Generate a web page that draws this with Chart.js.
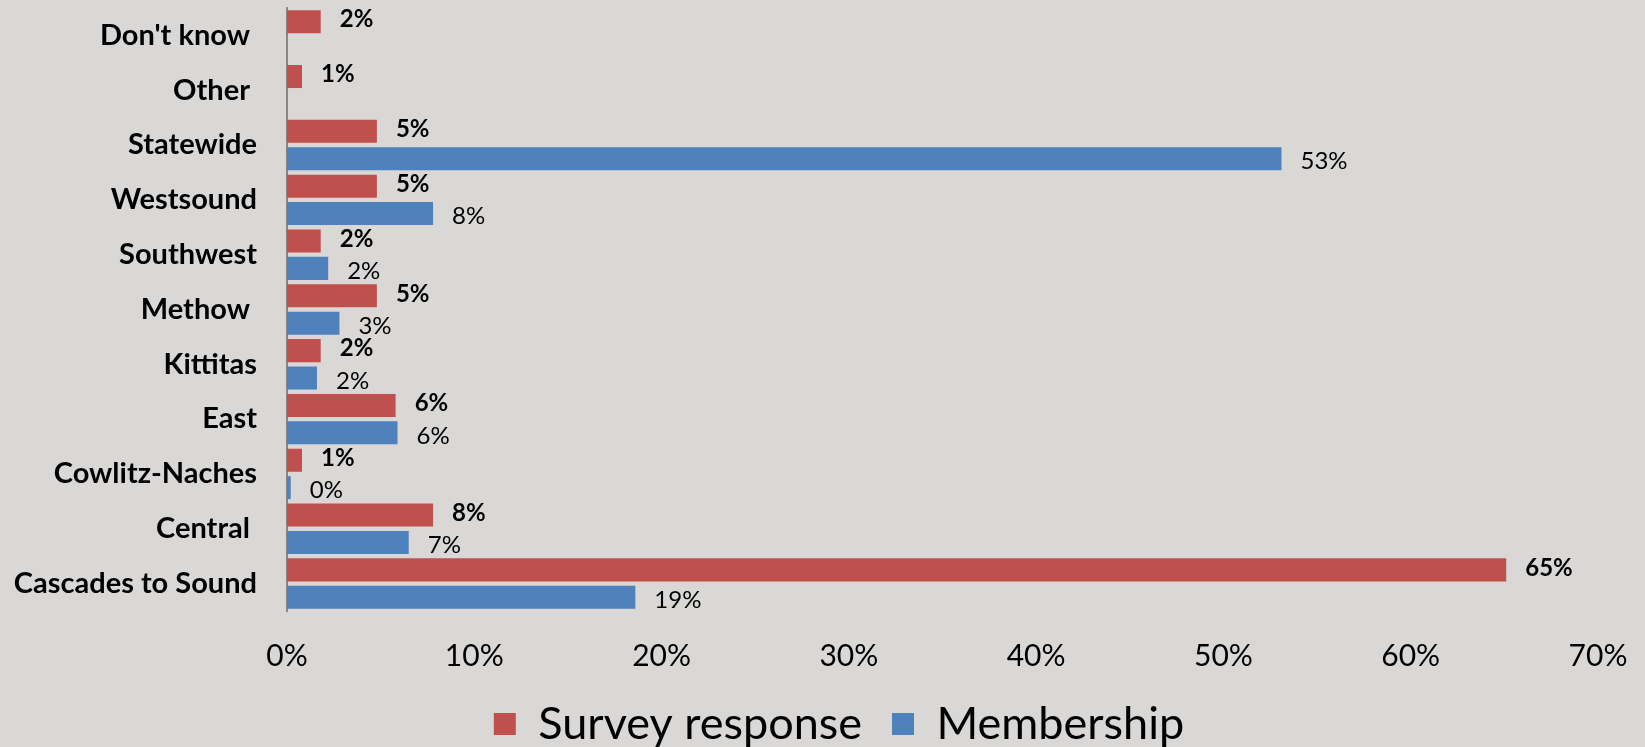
<!DOCTYPE html>
<html>
<head>
<meta charset="utf-8">
<script src="https://cdn.jsdelivr.net/npm/chart.js@4.4.0/dist/chart.umd.min.js"></script>
<style>
  html,body{margin:0;padding:0;background:#d9d8d6;}
  .chart-container{position:relative;width:1645px;height:747px;}
</style>
</head>
<body>
<div class="chart-container"><canvas id="myChart"></canvas></div>
<script>
const regions = ["Don't know ", 'Other ', 'Statewide', 'Westsound', 'Southwest', 'Methow ', 'Kittitas', 'East', 'Cowlitz-Naches', 'Central ', 'Cascades to Sound'];
const surveyResponse = [1.8, 0.8, 4.8, 4.8, 1.8, 4.8, 1.8, 5.8, 0.8, 7.8, 65.1];
const membership = [null, null, 53.1, 7.8, 2.2, 2.8, 1.6, 5.9, 0.2, 6.5, 18.6];
const xTicks = [0, 10, 20, 30, 40, 50, 60, 70];

const FONT = "Lato, 'Liberation Sans', sans-serif";

// bar end labels, bold for the survey series
const valueLabels = {
  id: 'valueLabels',
  afterDatasetsDraw(chart) {
    const ctx = chart.ctx;
    chart.data.datasets.forEach((ds, di) => {
      const meta = chart.getDatasetMeta(di);
      meta.data.forEach((bar, i) => {
        const v = ds.data[i];
        if (v === null) return;
        ctx.save();
        ctx.font = (di === 0 ? 'bold ' : '') + '24px ' + FONT;
        ctx.fillStyle = '#000';
        ctx.textBaseline = 'middle';
        ctx.fillText(Math.round(v) + '%', bar.x + 19, bar.y + (di === 0 ? -2 : 3));
        ctx.restore();
      });
    });
  }
};

const bg = {
  id: 'bg',
  beforeDraw(chart) {
    const ctx = chart.ctx;
    ctx.save();
    ctx.fillStyle = '#d9d8d6';
    ctx.fillRect(0, 0, chart.width, chart.height);
    ctx.restore();
  }
};

// legend in the original sits a bit right of the centre
const legendShift = {
  id: 'legendShift',
  afterLayout(chart) {
    chart.legend.left += 40;
    chart.legend.right += 40;
  }
};

const ctx = document.getElementById('myChart').getContext('2d');
new Chart(ctx, {
  type: 'bar',
  data: {
    labels: regions,
    datasets: [
      { label: 'Survey response', data: surveyResponse, backgroundColor: '#c0504d', categoryPercentage: 1, barPercentage: 0.84 },
      { label: 'Membership', data: membership, backgroundColor: '#4f81bd', categoryPercentage: 1, barPercentage: 0.84 }
    ]
  },
  options: {
    indexAxis: 'y',
    responsive: true,
    maintainAspectRatio: false,
    animation: false,
    layout: { padding: { top: 8, right: 47, left: 0, bottom: -9.5 } },
    scales: {
      x: {
        min: 0, max: 70,
        afterBuildTicks(scale) { scale.ticks = xTicks.map(v => ({ value: v })); },
        afterFit(scale) {
          scale.height = 60.5;
          scale.paddingLeft = 0;
          scale.paddingRight = 0;
        },
        grid: { display: false, drawTicks: false },
        border: { display: false },
        ticks: { color: '#000', padding: 27, maxRotation: 0, font: { family: FONT, size: 30 }, callback: v => v + '%' }
      },
      y: {
        afterFit(scale) {
          scale.width = 287;
          scale.paddingTop = 0;
          scale.paddingBottom = 0;
        },
        grid: { display: false, drawTicks: false },
        border: { display: true, color: '#868686', width: 2 },
        ticks: { color: '#000', padding: 30, font: { family: FONT, size: 29, weight: 'bold' } }
      }
    },
    plugins: {
      legend: {
        position: 'bottom',
        labels: { color: '#000', boxWidth: 22, boxHeight: 22, padding: 30, font: { family: FONT, size: 45 } }
      },
      tooltip: { enabled: false }
    }
  },
  plugins: [bg, valueLabels, legendShift]
});
</script>
</body>
</html>
